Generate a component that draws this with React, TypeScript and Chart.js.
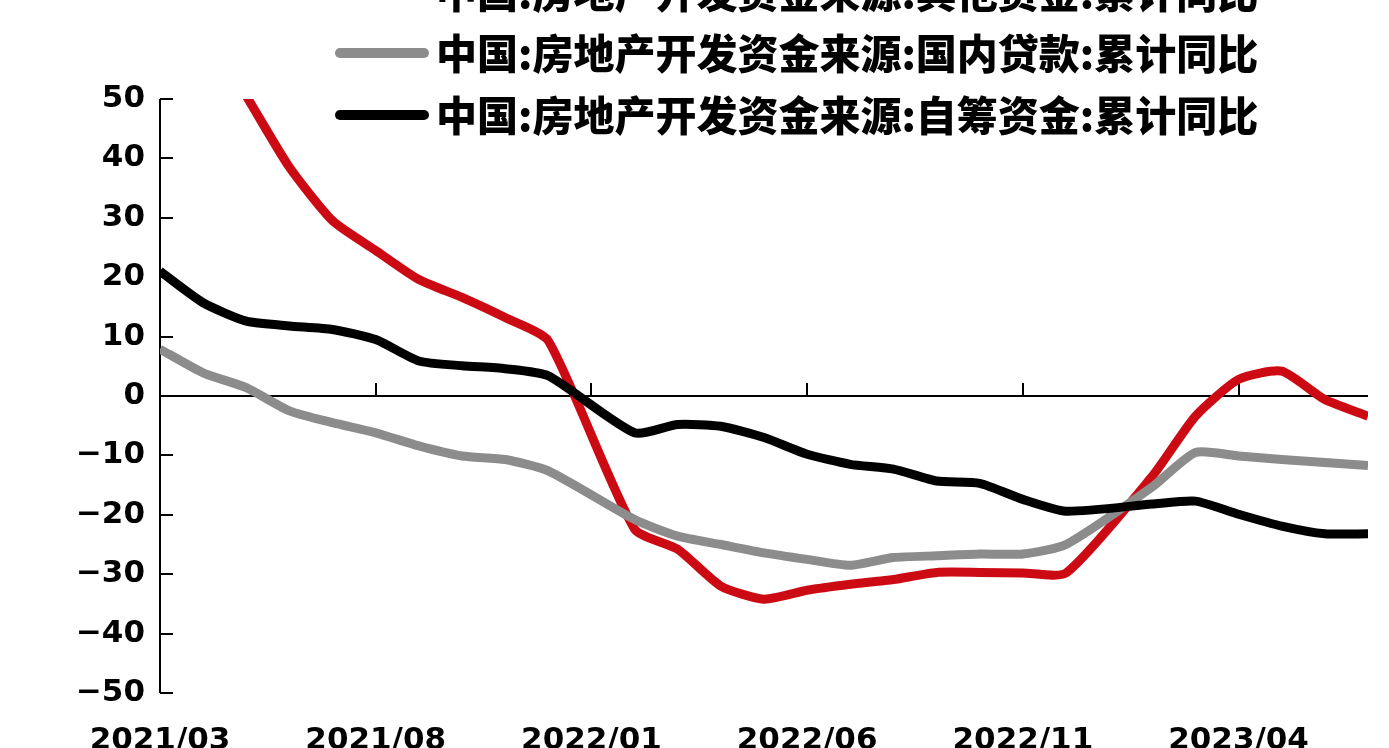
import React, { useEffect, useRef } from 'react';
import { Chart, registerables } from 'chart.js';

Chart.register(...registerables);

// Monthly categories (Jan has no separate release -> null values)
const categories = [
  '2021/03', '2021/04', '2021/05', '2021/06', '2021/07', '2021/08', '2021/09', '2021/10', '2021/11', '2021/12',
  '2022/01', '2022/02', '2022/03', '2022/04', '2022/05', '2022/06', '2022/07', '2022/08', '2022/09', '2022/10',
  '2022/11', '2022/12', '2023/01', '2023/02', '2023/03', '2023/04', '2023/05', '2023/06', '2023/07',
];

const tickLabels = ['2021/03', '2021/08', '2022/01', '2022/06', '2022/11', '2023/04'];

const seriesNames = [
  '中国:房地产开发资金来源:其他资金:累计同比',
  '中国:房地产开发资金来源:国内贷款:累计同比',
  '中国:房地产开发资金来源:自筹资金:累计同比',
];

const otherFunds = [
  78, 62, 50.5, 38.5, 29.5, 24.5, 19.6, 16.6, 13.2, 9.3,
  null, -22.4, -25.8, -32.0, -34.2, -32.7, -31.7, -30.9, -29.7, -29.7,
  -29.8, -29.8, null, -13.5, -3.4, 2.8, 4.2, -0.6, -3.4,
];

const domesticLoans = [
  7.9, 3.9, 1.4, -2.5, -4.5, -6.2, -8.4, -10.1, -10.7, -12.6,
  null, -20.8, -23.6, -25.0, -26.4, -27.5, -28.5, -27.2, -26.9, -26.6,
  -26.6, -25.0, null, -15.3, -9.5, -10.1, -10.7, -11.2, -11.7,
];

const selfRaised = [
  21.0, 15.7, 12.6, 11.8, 11.2, 9.5, 5.9, 5.1, 4.6, 3.4,
  null, -6.2, -4.8, -5.1, -7.0, -9.8, -11.5, -12.3, -14.3, -14.7,
  -17.4, -19.4, null, -18.2, -17.7, -19.9, -21.9, -23.2, -23.2,
];

const seriesColors = ['#cc0a14', '#8c8c8c', '#000000'];

const Y_MIN = -50;
const Y_MAX = 50;
const Y_STEP = 10;

const CANVAS_W = 1389;
const CANVAS_H = 775;

const axesPlugin = {
  id: 'customAxes',
  beforeDatasetsDraw(chart: any) {
    const { ctx, chartArea, scales } = chart;
    const xs = scales.x;
    const ys = scales.y;
    ctx.save();
    ctx.strokeStyle = '#000';
    ctx.lineWidth = 2;
    // y axis line
    ctx.beginPath();
    ctx.moveTo(chartArea.left, chartArea.top);
    ctx.lineTo(chartArea.left, chartArea.bottom);
    ctx.stroke();
    // y tick marks (inward)
    for (let v = Y_MIN; v <= Y_MAX; v += Y_STEP) {
      const y = Math.round(ys.getPixelForValue(v));
      ctx.beginPath();
      ctx.moveTo(chartArea.left, y);
      ctx.lineTo(chartArea.left + 13, y);
      ctx.stroke();
    }
    // zero line
    const y0 = Math.round(ys.getPixelForValue(0));
    ctx.beginPath();
    ctx.moveTo(chartArea.left, y0);
    ctx.lineTo(chartArea.right, y0);
    ctx.stroke();
    // x tick marks on the zero line (upward)
    tickLabels.forEach((lab) => {
      const idx = categories.indexOf(lab);
      const x = Math.round(xs.getPixelForValue(idx));
      ctx.beginPath();
      ctx.moveTo(x, y0);
      ctx.lineTo(x, y0 - 13);
      ctx.stroke();
    });
    ctx.restore();
  },
};

const legendPlugin = {
  id: 'customLegend',
  afterDraw(chart: any) {
    const { ctx } = chart;
    const rowY = [-8, 53, 115];
    ctx.save();
    chart.data.datasets.forEach((ds: any, i: number) => {
      const y = rowY[i];
      ctx.strokeStyle = ds.borderColor;
      ctx.lineWidth = 10;
      ctx.lineCap = 'round';
      ctx.beginPath();
      ctx.moveTo(340, y);
      ctx.lineTo(424, y);
      ctx.stroke();
      ctx.fillStyle = '#000';
      ctx.font = '900 41px "Noto Sans CJK SC"';
      ctx.textBaseline = 'middle';
      ctx.textAlign = 'left';
      ctx.fillText(ds.label, 436, y);
    });
    ctx.restore();
  },
};

export default function App() {
  const ref = useRef<HTMLCanvasElement>(null);

  useEffect(() => {
    document.body.style.margin = '0';
    document.body.style.overflow = 'hidden';
    const canvas = ref.current!;
    const yFont = { family: '"DejaVu Sans"', weight: 'bold' as const, size: 31 };
    const xFont = { family: '"DejaVu Sans"', weight: 'bold' as const, size: 31, lineHeight: 1.72 };
    const chart = new Chart(canvas, {
      type: 'line',
      data: {
        labels: categories,
        datasets: [
          { label: seriesNames[0], data: otherFunds, borderColor: seriesColors[0], order: 2 },
          { label: seriesNames[1], data: domesticLoans, borderColor: seriesColors[1], order: 1 },
          { label: seriesNames[2], data: selfRaised, borderColor: seriesColors[2], order: 0 },
        ].map((d) => ({
          ...d,
          borderWidth: 9,
          pointRadius: 0,
          tension: 0.2,
          spanGaps: true,
          fill: false,
          clip: 0,
        })),
      },
      options: {
        animation: false,
        responsive: false,
        devicePixelRatio: 1,
        layout: { padding: { top: 99, right: 21, left: 0, bottom: 0 } },
        plugins: {
          legend: { display: false },
          tooltip: { enabled: false },
        },
        elements: {
          line: { borderJoinStyle: 'round', borderCapStyle: 'butt' },
        },
        scales: {
          x: {
            type: 'category',
            offset: false,
            grid: { display: false, drawTicks: false },
            border: { display: false },
            ticks: {
              autoSkip: false,
              maxRotation: 0,
              minRotation: 0,
              padding: 21,
              color: '#000',
              font: xFont,
              callback: (_v: any, index: number) => {
                const lab = categories[index];
                return tickLabels.includes(lab) ? lab : '';
              },
            },
            afterFit: (s: any) => {
              s.height = CANVAS_H - 693;
            },
          },
          y: {
            min: Y_MIN,
            max: Y_MAX,
            grid: { display: false, drawTicks: false },
            border: { display: false },
            ticks: {
              stepSize: Y_STEP,
              padding: 15,
              color: '#000',
              font: yFont,
              callback: (v: any) => (Number(v) < 0 ? '\u2212' + Math.abs(Number(v)) : String(v)),
            },
            afterFit: (s: any) => {
              s.width = 160;
            },
          },
        },
      },
      plugins: [axesPlugin, legendPlugin],
    });
    return () => chart.destroy();
  }, []);

  return (
    <div
      style={{
        position: 'fixed',
        left: 0,
        top: 0,
        width: CANVAS_W,
        height: 748,
        overflow: 'hidden',
        background: '#fff',
      }}
    >
      <canvas
        ref={ref}
        width={CANVAS_W}
        height={CANVAS_H}
        style={{ display: 'block', width: CANVAS_W, height: CANVAS_H }}
      />
    </div>
  );
}
